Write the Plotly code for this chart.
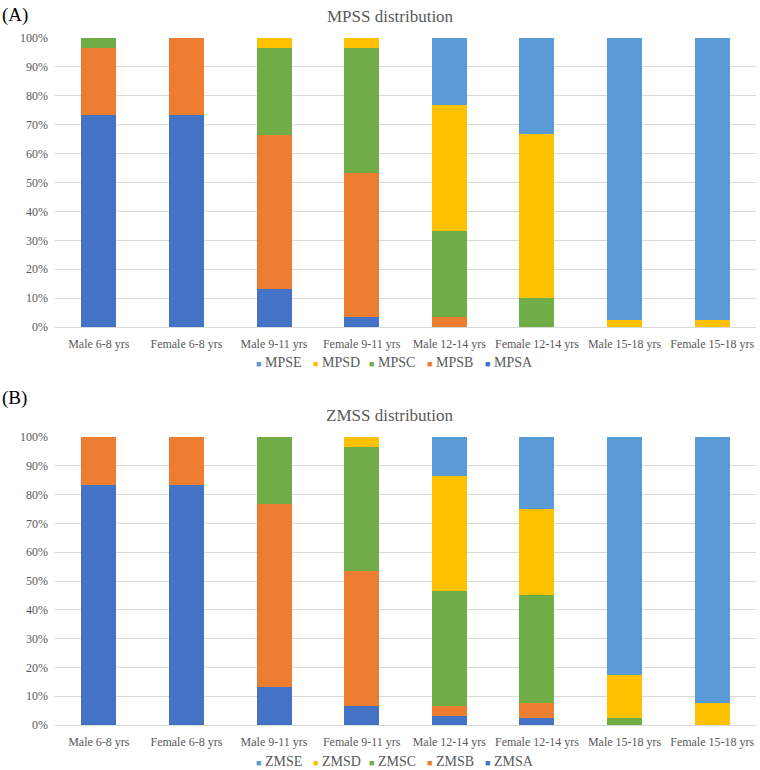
import plotly.graph_objects as go

categories = ["Male 6-8 yrs", "Female 6-8 yrs", "Male 9-11 yrs", "Female 9-11 yrs",
              "Male 12-14 yrs", "Female 12-14 yrs", "Male 15-18 yrs", "Female 15-18 yrs"]

# Panel A (MPSS) shares in %
mpsa = [73.3, 73.3, 13.3, 3.3, 0, 0, 0, 0]
mpsb = [23.3, 26.7, 53.3, 50.0, 3.3, 0, 0, 0]
mpsc = [3.4, 0, 30.0, 43.4, 30.0, 10.0, 0, 0]
mpsd = [0, 0, 3.4, 3.3, 43.4, 56.7, 2.5, 2.5]
mpse = [0, 0, 0, 0, 23.3, 33.3, 97.5, 97.5]

# Panel B (ZMSS) shares in %
zmsa = [83.3, 83.3, 13.3, 6.7, 3.3, 2.5, 0, 0]
zmsb = [16.7, 16.7, 63.4, 46.7, 3.3, 5.0, 0, 0]
zmsc = [0, 0, 23.3, 43.3, 40.0, 37.5, 2.5, 0]
zmsd = [0, 0, 0, 3.3, 40.0, 30.0, 15.0, 7.5]
zmse = [0, 0, 0, 0, 13.4, 25.0, 82.5, 92.5]

colors = ["#4472C4", "#ED7D31", "#70AD47", "#FFC000", "#5B9BD5"]
FONT = "Liberation Serif, Times New Roman, serif"
GREY = "#595959"

fig = go.Figure()
seriesA = [("MPSA", mpsa), ("MPSB", mpsb), ("MPSC", mpsc), ("MPSD", mpsd), ("MPSE", mpse)]
seriesB = [("ZMSA", zmsa), ("ZMSB", zmsb), ("ZMSC", zmsc), ("ZMSD", zmsd), ("ZMSE", zmse)]
for (name, vals), c in zip(seriesA, colors):
    fig.add_trace(go.Bar(x=categories, y=[v / 100 for v in vals], name=name, marker_color=c,
                         marker_line_width=0, xaxis="x", yaxis="y", showlegend=False))
for (name, vals), c in zip(seriesB, colors):
    fig.add_trace(go.Bar(x=categories, y=[v / 100 for v in vals], name=name, marker_color=c,
                         marker_line_width=0, xaxis="x2", yaxis="y2", showlegend=False))

H = 770.0
W = 760.0
xdom = [55 / W, 756 / W]
ydomA = [1 - 327 / H, 1 - 38 / H]
ydomB = [1 - 725 / H, 1 - 437 / H]

yax = dict(range=[0, 1], dtick=0.1, tickformat=".0%", showgrid=True, gridcolor="#d9d9d9",
           gridwidth=1, zeroline=False, showline=False, ticks="", fixedrange=True,
           automargin=False, ticklabelstandoff=6,
           tickfont=dict(family=FONT, size=12, color=GREY))
xax = dict(showline=True, linecolor="#d9d9d9", linewidth=1, ticks="", showgrid=False,
           automargin=False, ticklabelstandoff=6,
           tickfont=dict(family=FONT, size=12, color=GREY))

annotations = [
    dict(text="MPSS distribution", x=390 / W, y=1 - 17 / H, xref="paper", yref="paper",
         showarrow=False, xanchor="center", yanchor="middle",
         font=dict(family=FONT, size=17, color=GREY)),
    dict(text="ZMSS distribution", x=390 / W, y=1 - 416 / H, xref="paper", yref="paper",
         showarrow=False, xanchor="center", yanchor="middle",
         font=dict(family=FONT, size=17, color=GREY)),
    dict(text="(A)", x=0, y=1 - 15 / H, xref="paper", yref="paper",
         showarrow=False, xanchor="left", yanchor="middle",
         font=dict(family=FONT, size=19, color="black")),
    dict(text="(B)", x=0, y=1 - 398 / H, xref="paper", yref="paper",
         showarrow=False, xanchor="left", yanchor="middle",
         font=dict(family=FONT, size=19, color="black")),
]

# Legend entries (drawn as text, reversed order like the original)
legend_x = [256, 313, 369, 427, 485]
for (series, ly) in ((seriesA, 362), (seriesB, 761)):
    for i, ((name, _), c) in enumerate(reversed(list(zip(series, colors)))):
        annotations.append(dict(
            text=f'<span style="color:{c};font-size:9px">■</span> {name}',
            x=legend_x[i] / W, y=1 - ly / H, xref="paper", yref="paper",
            showarrow=False, xanchor="left", yanchor="middle", xshift=-2,
            font=dict(family=FONT, size=14, color=GREY)))

fig.update_layout(
    width=760, height=770,
    margin=dict(l=0, r=0, t=0, b=0),
    paper_bgcolor="white", plot_bgcolor="white",
    barmode="stack", bargap=0.6,
    showlegend=False,
    xaxis=dict(domain=xdom, anchor="y", **xax),
    yaxis=dict(domain=ydomA, anchor="x", **yax),
    xaxis2=dict(domain=xdom, anchor="y2", **xax),
    yaxis2=dict(domain=ydomB, anchor="x2", **yax),
    annotations=annotations,
)

fig.write_html("out.html")
